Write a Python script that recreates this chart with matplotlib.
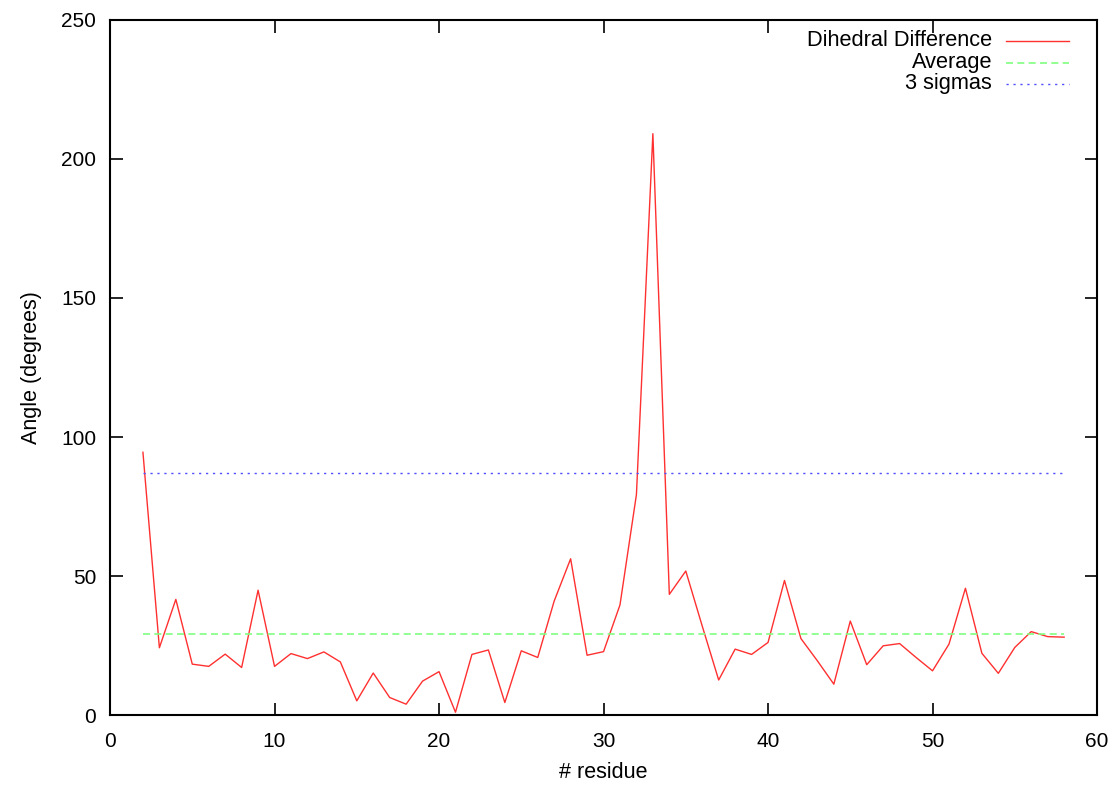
import matplotlib
matplotlib.use("Agg")
import matplotlib.pyplot as plt

plt.rcParams['font.family'] = ['Liberation Sans', 'DejaVu Sans']

residues = list(range(2, 59))
dihedral_diff = [94.5, 24.2, 41.6, 18.3, 17.5, 21.9, 17.1, 44.9, 17.5, 22.1,
                 20.3, 22.7, 19.1, 5.1, 15.1, 6.3, 3.9, 12.2, 15.6, 1.0,
                 21.8, 23.4, 4.5, 23.1, 20.7, 41.0, 56.2, 21.5, 22.8, 39.6,
                 79.3, 209.1, 43.4, 51.8, 32.0, 12.6, 23.7, 21.8, 26.1, 48.4,
                 27.5, 19.5, 11.1, 33.8, 18.1, 24.9, 25.7, 20.7, 15.9, 25.5,
                 45.6, 22.2, 15.0, 24.3, 30.0, 28.2, 28.0]
average = 29.06
three_sigmas = 87.1

x_ticks = [0, 10, 20, 30, 40, 50, 60]
y_ticks = [0, 50, 100, 150, 200, 250]
legend_labels = ['Dihedral Difference', 'Average', '3 sigmas']

colors = ['#ff3030', '#80ff80', '#5050ff']
styles = ['-', (0, (4.2, 2.6)), (0, (1.6, 3.4))]
widths = [1.0, 1.2, 1.0]

W, H = 1116, 786
fig = plt.figure(figsize=(W / 100, H / 100), dpi=100)
ax = fig.add_axes([0.0986, 0.0903, 0.8844, 0.8843])

ax.plot(residues, dihedral_diff, color=colors[0], lw=widths[0], linestyle=styles[0])
ax.plot([residues[0], residues[-1]], [average, average], color=colors[1], lw=widths[1],
        linestyle=styles[1])
ax.plot([residues[0], residues[-1]], [three_sigmas, three_sigmas], color=colors[2],
        lw=widths[2], linestyle=styles[2])

ax.set_xlim(0, 60)
ax.set_ylim(0, 250)
ax.set_xticks(x_ticks)
ax.set_yticks(y_ticks)
ax.tick_params(axis='both', direction='in', length=9, width=1.2, top=True, right=True,
               labelsize=15)
ax.tick_params(axis='x', pad=12)
ax.tick_params(axis='y', pad=10)
for s in ax.spines.values():
    s.set_linewidth(1.5)

ax.set_xlabel('# residue', fontsize=15.5, labelpad=8)
ax.set_ylabel('Angle (degrees)', fontsize=15.5, labelpad=14)

# gnuplot-style legend: right-aligned text, sample to the right
ax_x0 = 0.0986 * W
ax_w = 0.8844 * W
ax_y0 = 0.0903 * H
ax_h = 0.8843 * H


def to_ax(px, py):
    return (px - ax_x0) / ax_w, ((H - py) - ax_y0) / ax_h


row_y = [41, 62.5, 84]
for lab, c, st, lw, py in zip(legend_labels, colors, styles, widths, row_y):
    tx, ty = to_ax(992, py)
    ax.text(tx, ty, lab, transform=ax.transAxes, ha='right', va='center', fontsize=15.7)
    x1, _ = to_ax(1006, py)
    x2, _ = to_ax(1069, py)
    ax.plot([x1, x2], [ty, ty], transform=ax.transAxes, color=c, lw=lw, linestyle=st,
            clip_on=False)

fig.savefig('out.png', dpi=100)
